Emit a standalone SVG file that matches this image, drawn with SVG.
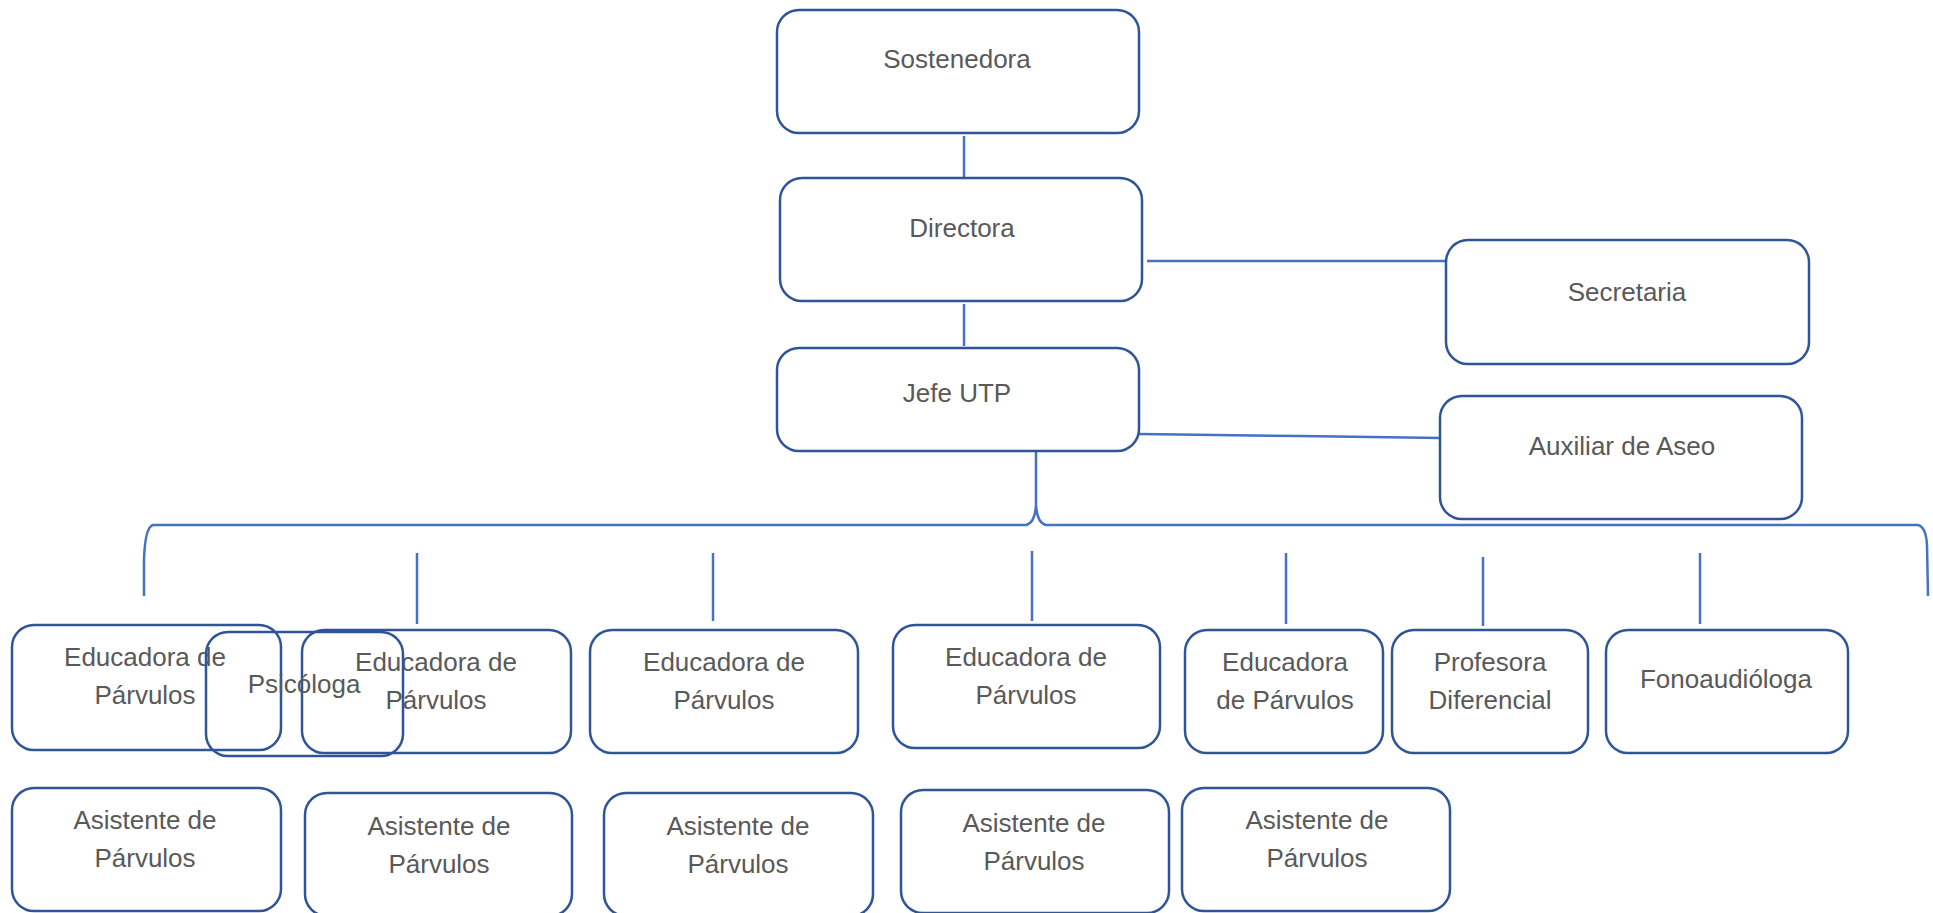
<svg xmlns="http://www.w3.org/2000/svg" width="1933" height="913" viewBox="0 0 1933 913">
<style>
.box{fill:#ffffff;stroke:#2f5597;stroke-width:2.5}
.open{fill:none;stroke:#2f5597;stroke-width:2.5}
.t{font-family:"Liberation Sans",Arial,sans-serif;font-size:26px;fill:#595959;text-anchor:middle}
.c{fill:none;stroke:#4472c4;stroke-width:2.5}
</style>
<rect width="1933" height="913" fill="#ffffff"/>
<g id="connectors">
<line class="c" x1="964" y1="136" x2="964" y2="177"/>
<line class="c" x1="964" y1="304" x2="964" y2="346"/>
<line class="c" x1="1147" y1="261" x2="1451" y2="261"/>
<path class="c" d="M1139 434 L1300 436 L1441 438"/>
<path class="c" d="M144 596 L144 560 Q145 527 153 525 L1026 525 Q1035 523 1036 505 L1036 452 M1036 505 Q1037 523 1046 525 L1918 525 Q1926 527 1927 545 L1928 596"/>
<line class="c" x1="417" y1="553" x2="417" y2="624"/>
<line class="c" x1="713" y1="553" x2="713" y2="621"/>
<line class="c" x1="1032" y1="551" x2="1032" y2="621"/>
<line class="c" x1="1286" y1="553" x2="1286" y2="624"/>
<line class="c" x1="1483" y1="557" x2="1483" y2="626"/>
<line class="c" x1="1700" y1="553" x2="1700" y2="624"/>
</g>
<g id="sostenedora"><rect class="box" x="777" y="10" width="362" height="123" rx="22"/><text class="t" x="957" y="68">Sostenedora</text></g>
<g id="directora"><rect class="box" x="780" y="178" width="362" height="123" rx="22"/><text class="t" x="962" y="237">Directora</text></g>
<g id="jefe-utp"><rect class="box" x="777" y="348" width="362" height="103" rx="22"/><text class="t" x="957" y="402">Jefe UTP</text></g>
<g id="secretaria"><rect class="box" x="1446" y="240" width="363" height="124" rx="22"/><text class="t" x="1627" y="301">Secretaria</text></g>
<g id="auxiliar"><rect class="box" x="1440" y="396" width="362" height="123" rx="22"/><text class="t" x="1622" y="455">Auxiliar de Aseo</text></g>

<g id="educadora1"><rect class="box" x="12" y="625" width="269" height="125" rx="22"/><text class="t" x="145" y="666">Educadora de<tspan x="145" dy="38">Párvulos</tspan></text></g>
<g id="educadora2"><rect class="box" x="302" y="630" width="269" height="123" rx="22"/><text class="t" x="436" y="671">Educadora de<tspan x="436" dy="38">Párvulos</tspan></text></g>
<g id="psicologa"><rect class="open" x="206" y="632" width="197" height="124" rx="22"/><text class="t" x="304" y="693">Psicóloga</text></g>
<g id="educadora3"><rect class="box" x="590" y="630" width="268" height="123" rx="22"/><text class="t" x="724" y="671">Educadora de<tspan x="724" dy="38">Párvulos</tspan></text></g>
<g id="educadora4"><rect class="box" x="893" y="625" width="267" height="123" rx="22"/><text class="t" x="1026" y="666">Educadora de<tspan x="1026" dy="38">Párvulos</tspan></text></g>
<g id="educadora5"><rect class="box" x="1185" y="630" width="198" height="123" rx="22"/><text class="t" x="1285" y="671">Educadora<tspan x="1285" dy="38">de Párvulos</tspan></text></g>
<g id="profesora"><rect class="box" x="1392" y="630" width="196" height="123" rx="22"/><text class="t" x="1490" y="671">Profesora<tspan x="1490" dy="38">Diferencial</tspan></text></g>
<g id="fonoaudiologa"><rect class="box" x="1606" y="630" width="242" height="123" rx="22"/><text class="t" x="1726" y="688">Fonoaudióloga</text></g>

<g id="asistente1"><rect class="box" x="12" y="788" width="269" height="123" rx="22"/><text class="t" x="145" y="829">Asistente de<tspan x="145" dy="38">Párvulos</tspan></text></g>
<g id="asistente2"><rect class="box" x="305" y="793" width="267" height="123" rx="22"/><text class="t" x="439" y="835">Asistente de<tspan x="439" dy="38">Párvulos</tspan></text></g>
<g id="asistente3"><rect class="box" x="604" y="793" width="269" height="123" rx="22"/><text class="t" x="738" y="835">Asistente de<tspan x="738" dy="38">Párvulos</tspan></text></g>
<g id="asistente4"><rect class="box" x="901" y="790" width="268" height="123" rx="22"/><text class="t" x="1034" y="832">Asistente de<tspan x="1034" dy="38">Párvulos</tspan></text></g>
<g id="asistente5"><rect class="box" x="1182" y="788" width="268" height="123" rx="22"/><text class="t" x="1317" y="829">Asistente de<tspan x="1317" dy="38">Párvulos</tspan></text></g>
</svg>
